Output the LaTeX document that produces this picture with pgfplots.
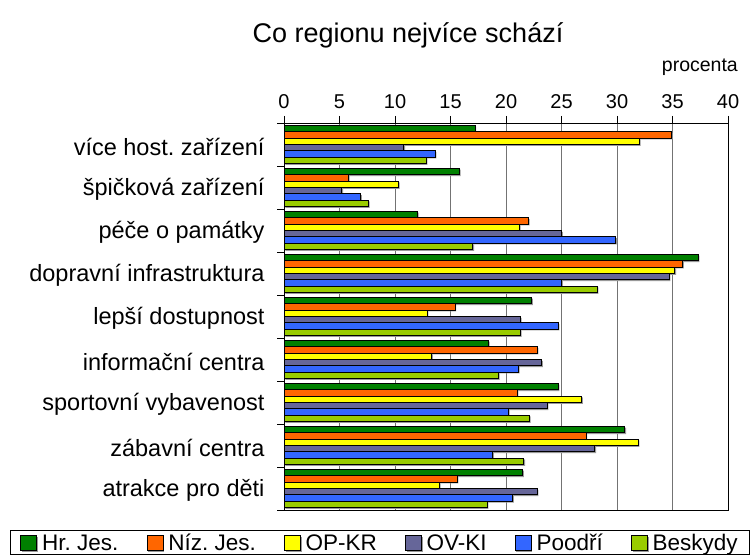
\documentclass[border=0pt]{standalone}
\usepackage{fontspec}
\setmainfont{Liberation Sans}
\usepackage{pgfplots}
\pgfplotsset{compat=1.18}
\usepackage{pgfplotstable}
\definecolor{cgreen}{RGB}{0,128,0}
\definecolor{corange}{RGB}{255,102,0}
\definecolor{cyellow}{RGB}{255,255,0}
\definecolor{cpurple}{RGB}{102,102,153}
\definecolor{cblue}{RGB}{51,102,255}
\definecolor{clime}{RGB}{153,204,0}

\pgfplotstableread{
cat hr niz op ov po be
0 17.2 34.9 32.0 10.8 13.6 12.8
1 15.8 5.8 10.3 5.2 6.9 7.6
2 12.0 22.0 21.2 25.0 29.9 17.0
3 37.3 35.9 35.2 34.7 25.0 28.2
4 22.3 15.4 12.9 21.3 24.7 21.3
5 18.4 22.8 13.3 23.2 21.1 19.3
6 24.7 21.0 26.8 23.7 20.2 22.1
7 30.7 27.2 31.9 28.0 18.8 21.6
8 21.5 15.6 14.0 22.8 20.6 18.3
}\data

\pgfplotsset{mybar/.style={fill=#1, draw=black, line width=0.8bp,
  preaction={fill=black!40, draw=none, transform canvas={xshift=1.3bp,yshift=-1.3bp}},
  legend image code/.code={\draw[fill=#1,draw=black,line width=0.8bp] (0bp,-8bp) rectangle (16bp,7bp);}}}

\begin{document}
\frenchspacing
\begin{tikzpicture}[x=1bp,y=1bp]
\useasboundingbox (0,0) rectangle (750,560);
\begin{axis}[
  at={(284bp,50bp)}, anchor=south west,
  scale only axis, width=444bp, height=387bp,
  xbar=0pt, bar width=6.35bp,
  xmin=0, xmax=40, ymin=-0.5, ymax=8.5, y dir=reverse,
  xtick={0,5,...,40}, xtick pos=right, xticklabel pos=right,
  ytick={-0.5,0.5,...,8.5}, yticklabels={}, ytick pos=left,
  extra y ticks={0,1,2,3,4,5,6,7,8},
  extra y tick labels={více host. zařízení,špičková zařízení,péče o památky,dopravní infrastruktura,lepší dostupnost,informační centra,sportovní vybavenost,zábavní centra,atrakce pro děti},
  extra y tick style={major tick length=0pt, yticklabel style={font=\fontsize{23.5bp}{28bp}\selectfont, xshift=-16bp, yshift=-2bp}},
  tick align=outside, major tick length=7bp,
  xmajorgrids, grid style={black!55, line width=0.8bp},
  axis line style={line width=0.8bp},
  tick style={black, line width=0.8bp},
  /pgf/number format/assume math mode=true,
  xticklabel style={font=\fontsize{20bp}{24bp}\selectfont, yshift=4bp},
  legend style={at={(axis description cs:-0.617,-0.0517)}, anchor=north west,
    legend columns=6, draw=black, line width=0.8bp,
    font=\fontsize{22.5bp}{27bp}\selectfont,
    inner xsep=10bp, inner ysep=2bp,
    nodes={inner xsep=2bp, inner ysep=2bp, text height=16bp, text depth=0bp},
    /tikz/every odd column/.append style={column sep=3bp},
    /tikz/every even column/.append style={column sep=26bp}},
]
\addplot[mybar=cgreen, bar shift=15.875bp] table[x=hr,y=cat]{\data};
\addplot[mybar=corange, bar shift=9.525bp] table[x=niz,y=cat]{\data};
\addplot[mybar=cyellow, bar shift=3.175bp] table[x=op,y=cat]{\data};
\addplot[mybar=cpurple, bar shift=-3.175bp] table[x=ov,y=cat]{\data};
\addplot[mybar=cblue, bar shift=-9.525bp] table[x=po,y=cat]{\data};
\addplot[mybar=clime, bar shift=-15.875bp] table[x=be,y=cat]{\data};
\legend{Hr. Jes.,Níz. Jes.,OP-KR,OV-KI,Poodří,Beskydy}
\end{axis}
\node[anchor=base, font=\fontsize{27bp}{32bp}\selectfont] at (408,517) {Co regionu nejvíce schází};
\node[anchor=base east, font=\fontsize{19.5bp}{23bp}\selectfont, inner sep=0pt] at (738,488) {procenta};
\end{tikzpicture}
\end{document}
